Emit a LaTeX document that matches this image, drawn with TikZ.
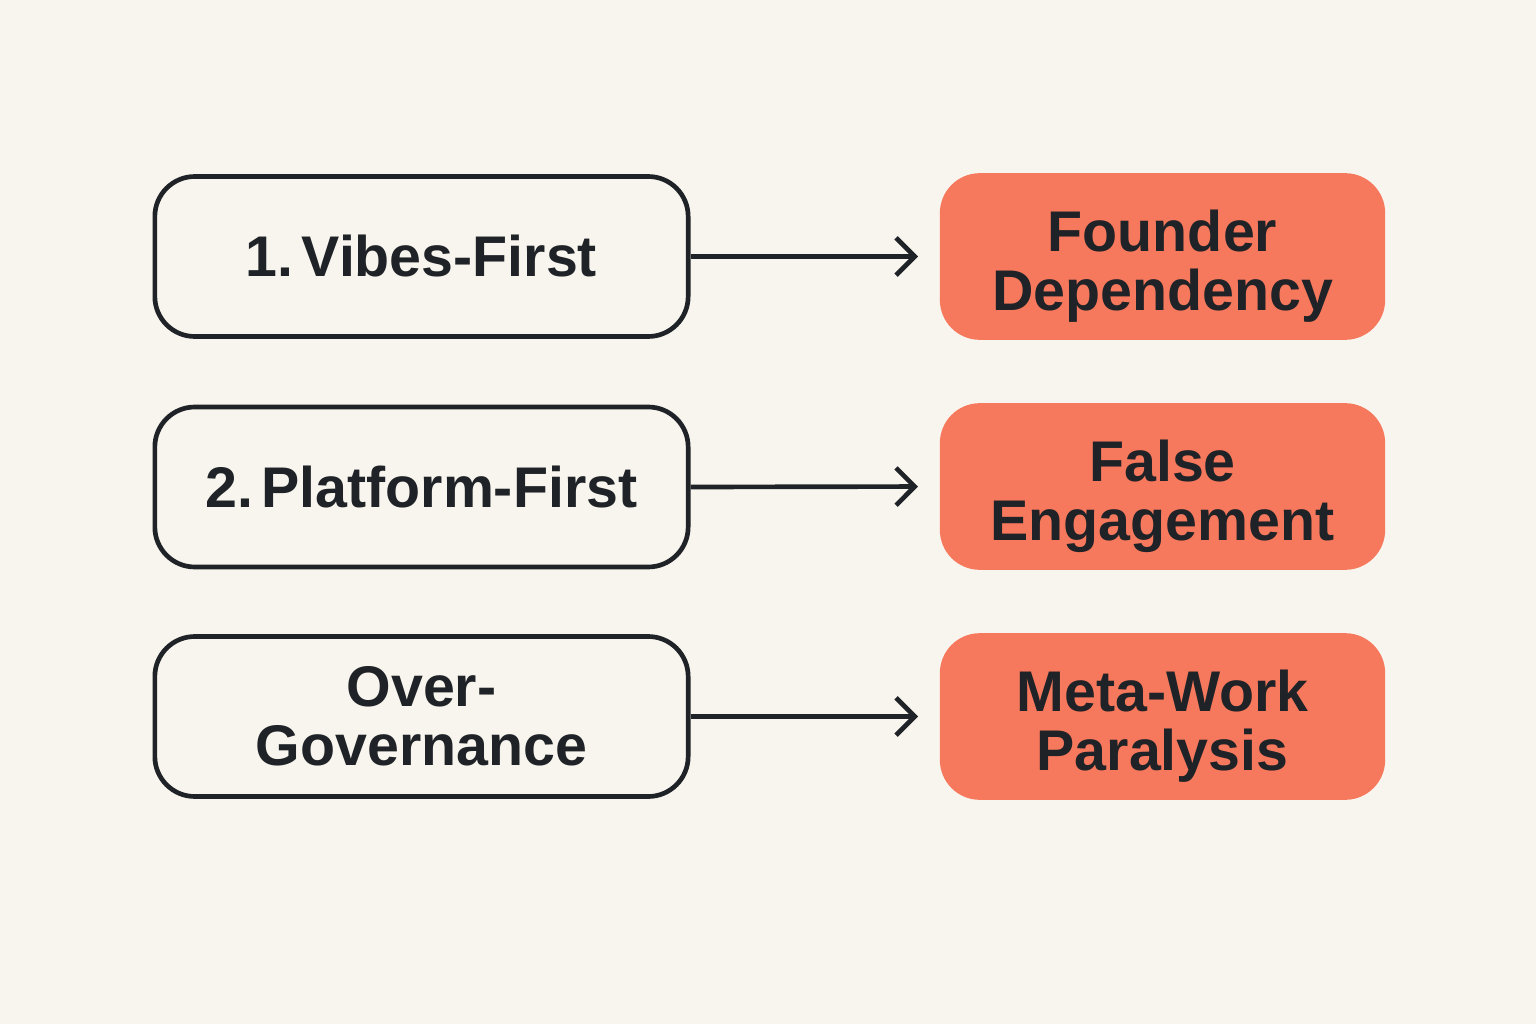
\documentclass[tikz,border=0pt]{standalone}
\usepackage{fontspec}
\setmainfont{Liberation Sans}
\usetikzlibrary{arrows.meta}
\definecolor{paper}{RGB}{248,245,238}
\definecolor{ink}{RGB}{31,34,38}
\definecolor{coral}{RGB}{247,121,93}
\tikzset{every picture/.style={line width=0.75pt}}
\tikzset{
  cause/.style={draw=ink, line width=3.5pt, rounded corners=30pt, fill=paper,
    minimum width=400pt, minimum height=120pt, align=center, text=ink,
    font=\bfseries\fontsize{43}{44}\selectfont},
  effect/.style={fill=coral, rounded corners=30pt, text height=90pt,
    minimum width=334pt, minimum height=125pt, align=center, text=ink,
    font=\bfseries\fontsize{43}{44}\selectfont},
  leads/.style={draw=ink, line width=3.5pt, shorten >=16pt,
    -{Straight Barb[length=14pt,width=28pt,line width=3.5pt]}}
}
\begin{document}
\begin{tikzpicture}[x=0.75pt,y=0.75pt,yscale=-1,xscale=1]
%set diagram to 1536 x 1024
\fill[paper] (0,0) rectangle (1536,1024);
\useasboundingbox (0,0) rectangle (1536,1024);
%Shape: Rounded Rectangle [id:vibes]
\node[cause] (vibes) at (421.5,256.5) {1.\kern6pt Vibes-First};
%Shape: Rounded Rectangle [id:platform]
\node[cause] (platform) at (421.5,487) {2.\kern6pt Platform-First};
%Shape: Rounded Rectangle [id:overgov]
\node[cause] (overgov) at (421.5,716.5) {Over-\\Governance};
%Shape: Rounded Rectangle [id:founder]
\node[effect] (founder) at (1162.5,256.5) {Founder\\Dependency};
%Shape: Rounded Rectangle [id:falseeng]
\node[effect] (falseeng) at (1162.5,486.5) {False\\Engagement};
%Shape: Rounded Rectangle [id:metawork]
\node[effect] (metawork) at (1162.5,716.5) {Meta-Work\\Paralysis};
%Straight Lines
\draw[leads] (vibes.east) -- (founder.west);
\draw[leads] (platform.east) -- (falseeng.west);
\draw[leads] (overgov.east) -- (metawork.west);
\end{tikzpicture}
\end{document}
